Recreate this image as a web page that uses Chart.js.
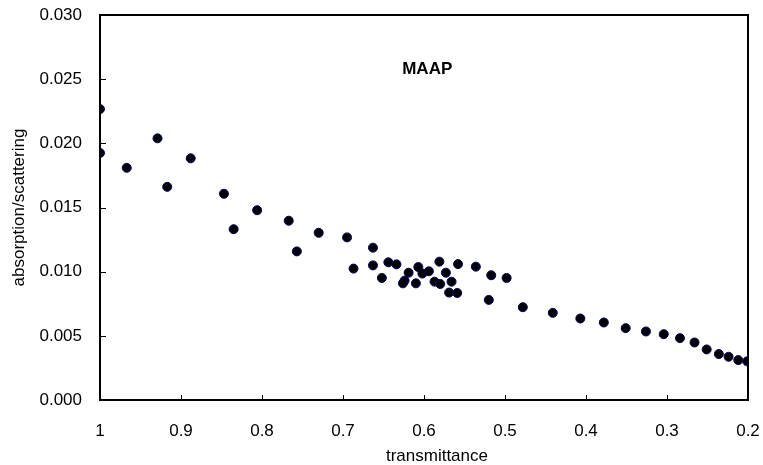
<!DOCTYPE html>
<html>
<head>
<meta charset="utf-8">
<script src="https://cdn.jsdelivr.net/npm/chart.js@4/dist/chart.umd.min.js"></script>
<style>
  html, body { margin:0; padding:0; background:#fff; }
  #wrap { width:763px; height:465px; position:relative; }
</style>
</head>
<body>
<div id="wrap"><canvas id="chart" width="763" height="465"></canvas></div>
<script>
// transmittance (x) and absorption/scattering (y)
const transmittance = [
  1.000, 1.000, 0.967, 0.929, 0.917, 0.888, 0.847, 0.835, 0.806, 0.767,
  0.757, 0.730, 0.695, 0.687, 0.663, 0.663, 0.652, 0.644, 0.634, 0.619,
  0.624, 0.626, 0.610, 0.607, 0.602, 0.594, 0.587, 0.580, 0.581, 0.573,
  0.566, 0.569, 0.559, 0.558, 0.536, 0.517, 0.498, 0.520, 0.478, 0.441,
  0.407, 0.378, 0.351, 0.326, 0.304, 0.284, 0.266, 0.251, 0.236, 0.224,
  0.212, 0.201
];
const ratio = [
  0.02267, 0.01925, 0.01809, 0.02039, 0.01661, 0.01883, 0.01607, 0.01331, 0.01479, 0.01397,
  0.01158, 0.01303, 0.01267, 0.01024, 0.01187, 0.01049, 0.00951, 0.01073, 0.01057, 0.00992,
  0.00930, 0.00909, 0.00909, 0.01036, 0.00985, 0.01003, 0.00922, 0.00904, 0.01078, 0.00992,
  0.00922, 0.00837, 0.00834, 0.01059, 0.01039, 0.00972, 0.00951, 0.00780, 0.00723, 0.00679,
  0.00635, 0.00604, 0.00560, 0.00534, 0.00513, 0.00482, 0.00448, 0.00394, 0.00358, 0.00337,
  0.00311, 0.00301
];
const xTickStep = 0.1;
const yTickStep = 0.005;
const label = 'MAAP';
const labelAt = { x:0.596, y:0.0258 };
const xTitle = 'transmittance';
const yTitle = 'absorption/scattering';

const font = "'Liberation Sans', Arial, sans-serif";

// box around plot, inward ticks, x title (sits a bit right of centre) and the in-plot label
const frame = {
  id:'frame',
  afterDraw(chart){
    const {ctx, chartArea:a, scales:{x, y}} = chart;
    ctx.save();
    ctx.strokeStyle = '#000';
    ctx.lineWidth = 1;
    x.ticks.forEach(t=>{
      const px = Math.round(x.getPixelForValue(t.value)) + 0.5;
      ctx.beginPath(); ctx.moveTo(px, a.bottom); ctx.lineTo(px, a.bottom - 5); ctx.stroke();
    });
    y.ticks.forEach(t=>{
      const py = Math.round(y.getPixelForValue(t.value)) + 0.5;
      ctx.beginPath(); ctx.moveTo(a.left, py); ctx.lineTo(a.left + 6, py); ctx.stroke();
    });
    ctx.lineWidth = 2;
    ctx.strokeRect(a.left, a.top, a.right - a.left, a.bottom - a.top);
    ctx.fillStyle = '#000';
    ctx.textAlign = 'center';
    ctx.textBaseline = 'middle';
    ctx.font = '17px ' + font;
    ctx.fillText(xTitle, a.left + (a.right - a.left) * 0.52, a.bottom + 56);
    ctx.font = 'bold 17px ' + font;
    ctx.fillText(label, x.getPixelForValue(labelAt.x), y.getPixelForValue(labelAt.y));
    ctx.restore();
  }
};

const points = transmittance.map((v,i)=>({ x:v, y:ratio[i] }));

new Chart(document.getElementById('chart'), {
  type:'scatter',
  data:{ datasets:[{
    data: points,
    backgroundColor:'#000',
    borderColor:'#000066',
    borderWidth:1,
    pointRadius:4.5,
    pointHoverRadius:4.5
  }]},
  options:{
    responsive:false,
    animation:false,
    layout:{ padding:{ top:15, right:15, left:0, bottom:0 } },
    plugins:{ legend:{ display:false }, tooltip:{ enabled:false } },
    scales:{
      x:{
        type:'linear', reverse:true, min:0.2, max:1,
        grid:{ display:false, drawTicks:false },
        border:{ display:false },
        afterFit: s=>{ s.height = 65; s.paddingLeft = 0; s.paddingRight = 0; },
        ticks:{ stepSize:xTickStep, padding:21, color:'#000', font:{ family:font, size:17 },
          callback: v=>String(Math.round(v*10)/10) },
        title:{ display:false }
      },
      y:{
        type:'linear', min:0, max:0.03,
        grid:{ display:false, drawTicks:false },
        border:{ display:false },
        afterFit: s=>{ s.width = 100; s.paddingTop = 0; s.paddingBottom = 0; },
        ticks:{ stepSize:yTickStep, padding:18, color:'#000', font:{ family:font, size:17 },
          callback: v=>v.toFixed(3) },
        title:{ display:true, text:yTitle, color:'#000', font:{ family:font, size:17 }, padding:{ top:9, bottom:0 } }
      }
    }
  },
  plugins:[frame]
});
</script>
</body>
</html>
